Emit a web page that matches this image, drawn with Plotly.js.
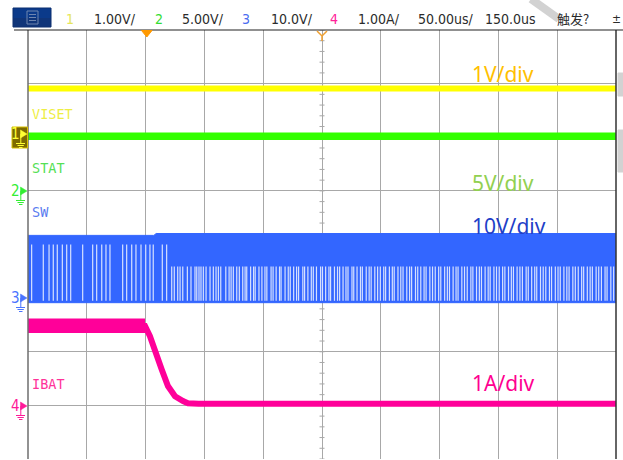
<!DOCTYPE html>
<html>
<head>
<meta charset="utf-8">
<script src="https://cdn.plot.ly/plotly-3.0.1.min.js"></script>
<style>html,body{margin:0;padding:0;background:#fff;}#chart{width:623px;height:460px;}</style>
</head>
<body>
<div id="chart"></div>
<script>
// ---------------- data ----------------
const chNumbers = ['1', '2', '3', '4'];
const chScales = ['1.00V/', '5.00V/', '10.0V/', '1.00A/'];
const timeTexts = ['50.00us/', '150.0us', '触发?'];
const chLabels = ['VISET', 'STAT', 'SW', 'IBAT'];
const divLabels = ['1V/div', '5V/div', '10V/div', '1A/div'];

// time in microseconds (trigger at 0)
const viset_t = [-100, 400];
const viset_v = [0.91, 0.91];            // V
const stat_t = [-100, 400];
const stat_v = [5.1, 5.1];               // V
const sw_t = [-100, 7, 9, 400];
const sw_top = [11.7, 11.7, 12.05, 12.05]; // V (envelope)
const sw_bot = [-0.85, -0.85, -0.85, -0.85];
const sw_gap_sparse = [-96.9, -87.0, -82.1, -78.5, -75.1, -70.8, -67.1, -63.7, -53.5, -45.0, -41.6, -37.3,
  -33.7, -30.3, -19.5, -16.1, -11.8, -8.2, -3.9, 0.1, 3.7, 6.5, 14.2, 17.9];
const sw_gap_sparse_top = 10.0;
const sw_gap_dense = [22.2, 24.4, 27.3, 29.3, 31.6, 35.5, 38.6, 42.0, 43.5, 45.4, 47.1, 49.1, 51.4, 54.8, 57.6,
  59.9, 61.9, 63.9, 68.2, 71.0, 72.7, 74.6, 77.5, 79.7, 82.6, 84.6, 86.0, 89.3, 91.8, 93.2, 96.4, 98.9, 101.5,
  103.1, 106.7, 108.4, 111.0, 113.9, 115.2, 118.6, 121.3, 123.0, 125.9, 128.4, 130.1, 133.7, 135.2, 138.0,
  140.9, 142.6, 145.3, 148.8, 150.4, 153.1, 155.9, 157.3, 160.6, 163.2, 165.0, 167.9, 170.4, 172.1, 175.5,
  177.0, 179.8, 182.7, 184.3, 187.6, 190.1, 191.8, 194.9, 197.3, 199.6, 202.5, 204.1, 207.3, 209.8, 211.4,
  214.6, 217.0, 218.9, 222.1, 224.5, 226.2, 229.5, 231.4, 234.0, 236.8, 238.5, 241.7, 244.0, 246.3, 249.2,
  251.0, 254.3, 256.6, 258.4, 261.5, 264.0, 265.7, 268.9, 271.2, 273.5, 276.6, 278.3, 281.4, 283.8, 285.6,
  288.7, 291.3, 293.0, 296.2, 298.4, 300.7, 303.6, 305.5, 308.6, 311.0, 312.8, 315.9, 318.3, 320.4, 323.6,
  325.4, 328.3, 330.9, 332.6, 335.8, 338.1, 340.3, 343.4, 345.2, 348.4, 350.7, 352.6, 355.7, 358.2, 360.1,
  363.3, 365.4, 367.9, 370.8, 372.5, 375.6, 378.0, 379.9, 383.1, 385.3, 387.6, 390.7, 392.4, 395.6, 398.0];
const sw_gap_dense_top = 5.9;
const sw_gap_bottom = -0.5;
const ibat_t = [-100, -0.5, 3.7, 8.0, 13.7, 19.0, 25.0, 31.8, 36.0, 45, 400];
const ibat_a = [1.49, 1.48, 1.29, 0.99, 0.67, 0.36, 0.17, 0.08, 0.04, 0.03, 0.03]; // A
const ibat_noise_t = [-100, -0.5];
const ibat_noise_hi = [1.62, 1.62];
const ibat_noise_lo = [1.35, 1.35];

// ---------------- helpers (layout) ----------------
const W = 623, H = 460, L = 28, R = 7, T = 30, B = 1;
const PW = W - L - R, PH = H - T - B;
function px(x) { return (x - L) / PW; }
function py(y) { return (H - B - y) / PH; }

const cYellow = '#ffff00', cGreen = '#33ff00', cBlue = '#3366ff', cPink = '#ff0099';

// ---------------- traces ----------------
const traces = [];
traces.push({x: viset_t, y: viset_v, yaxis: 'y2', mode: 'lines', line: {color: cYellow, width: 6}, hoverinfo: 'skip'});
traces.push({x: stat_t, y: stat_v, yaxis: 'y3', mode: 'lines', line: {color: cGreen, width: 7.5}, hoverinfo: 'skip'});
traces.push({
  x: sw_t.concat(sw_t.slice().reverse()),
  y: sw_top.concat(sw_bot.slice().reverse()),
  yaxis: 'y4', mode: 'lines', fill: 'toself', fillcolor: cBlue, line: {color: cBlue, width: 1}, hoverinfo: 'skip'
});
const gx = [], gy = [];
sw_gap_sparse.forEach(t => { gx.push(t, t, null); gy.push(sw_gap_sparse_top, sw_gap_bottom, null); });
sw_gap_dense.forEach(t => { gx.push(t, t, null); gy.push(sw_gap_dense_top, sw_gap_bottom, null); });
traces.push({x: gx, y: gy, yaxis: 'y4', mode: 'lines', line: {color: 'rgba(255,255,255,0.8)', width: 1.2}, hoverinfo: 'skip'});
traces.push({
  x: ibat_noise_t.concat(ibat_noise_t.slice().reverse()),
  y: ibat_noise_hi.concat(ibat_noise_lo.slice().reverse()),
  yaxis: 'y5', mode: 'lines', fill: 'toself', fillcolor: cPink, line: {color: cPink, width: 0}, hoverinfo: 'skip'
});
traces.push({x: ibat_t, y: ibat_a, yaxis: 'y5', mode: 'lines', line: {color: cPink, width: 6}, hoverinfo: 'skip'});

// ---------------- shapes ----------------
const shapes = [];
const gridGray = '#a8a8a8';
// minor ticks on center vertical line
for (let k = -20; k <= 20; k++) {
  shapes.push({type: 'line', xref: 'paper', yref: 'y', x0: px(319.5), x1: px(324.5), y0: k * 0.2, y1: k * 0.2,
    line: {color: gridGray, width: 1}, layer: 'below'});
}
// borders
shapes.push({type: 'line', xref: 'paper', yref: 'paper', x0: px(28), x1: px(28), y0: 0, y1: 1, line: {color: '#6e6e6e', width: 1.5}});
shapes.push({type: 'line', xref: 'paper', yref: 'paper', x0: px(616), x1: px(616), y0: 0, y1: 1, line: {color: '#333333', width: 1.5}});
shapes.push({type: 'line', xref: 'paper', yref: 'paper', x0: px(14), x1: px(623), y0: 1, y1: 1, line: {color: '#222222', width: 1.2}});
// trigger markers
shapes.push({type: 'path', xref: 'paper', yref: 'paper',
  path: `M ${px(141.5)} ${py(30.5)} L ${px(152)} ${py(30.5)} L ${px(146.8)} ${py(37)} Z`,
  fillcolor: '#ff9900', line: {color: '#ff9900', width: 1}});
shapes.push({type: 'path', xref: 'paper', yref: 'paper',
  path: `M ${px(317)} ${py(31)} L ${px(322)} ${py(36)} L ${px(327)} ${py(31)} M ${px(322)} ${py(36)} L ${px(322)} ${py(41)}`,
  line: {color: '#f0a030', width: 1.5}});
// menu button
shapes.push({type: 'rect', xref: 'paper', yref: 'paper', x0: px(13), x1: px(51), y0: py(27), y1: py(8),
  fillcolor: '#0b3a8a', line: {color: '#0a2f70', width: 1}});
shapes.push({type: 'rect', xref: 'paper', yref: 'paper', x0: px(13), x1: px(51), y0: py(27), y1: py(18),
  fillcolor: 'rgba(20,50,110,0.6)', line: {width: 0}});
shapes.push({type: 'rect', xref: 'paper', yref: 'paper', x0: px(27), x1: px(38), y0: py(24), y1: py(11),
  fillcolor: 'rgba(0,0,0,0)', line: {color: '#6f86b0', width: 1}});
[14.5, 17.5, 20.5].forEach(yy => shapes.push({type: 'line', xref: 'paper', yref: 'paper', x0: px(29), x1: px(36),
  y0: py(yy), y1: py(yy), line: {color: '#6f86b0', width: 1}}));
// watermark remnants
const wm = '#d2d2d2';
shapes.push({type: 'line', xref: 'paper', yref: 'paper', x0: px(531), y0: py(-1), x1: px(559), y1: py(19),
  line: {color: wm, width: 8}});
shapes.push({type: 'rect', xref: 'paper', yref: 'paper', x0: px(618), x1: px(623), y0: py(96), y1: py(73),
  fillcolor: wm, line: {color: wm, width: 1}});
shapes.push({type: 'rect', xref: 'paper', yref: 'paper', x0: px(618), x1: px(623), y0: py(172), y1: py(130),
  fillcolor: wm, line: {color: wm, width: 1}});

// channel ground markers (pixel y of ground level for each channel)
const chColors = ['#ffff33', '#33ee33', '#4a74ff', '#ff1a99'];
const groundPx = [134, 191, 298, 406];
shapes.push({type: 'rect', xref: 'paper', yref: 'paper', x0: px(12), x1: px(27.5), y0: py(148), y1: py(127),
  fillcolor: '#7d6b00', line: {color: '#d8c000', width: 1}});
const annotations = [];
groundPx.forEach((g, i) => {
  const c = chColors[i];
  shapes.push({type: 'path', xref: 'paper', yref: 'paper',
    path: `M ${px(20.5)} ${py(g - 4)} L ${px(20.5)} ${py(g + 4)} L ${px(27)} ${py(g)} Z`, fillcolor: c, line: {color: c, width: 0.5}});
  shapes.push({type: 'line', xref: 'paper', yref: 'paper', x0: px(20.8), x1: px(20.8), y0: py(g), y1: py(g + 9.5), line: {color: c, width: 1}});
  [[16, 25, 9.5], [17.5, 23.8, 11.5], [19, 22.5, 13.5]].forEach(s => shapes.push({type: 'line', xref: 'paper', yref: 'paper',
    x0: px(s[0]), x1: px(s[1]), y0: py(g + s[2]), y1: py(g + s[2]), line: {color: c, width: 1}}));
  annotations.push({xref: 'paper', yref: 'paper', x: px(15.8), y: py(g), text: chNumbers[i], showarrow: false,
    xanchor: 'center', yanchor: 'middle', font: {family: 'Liberation Sans Narrow, DejaVu Sans Condensed, sans-serif', size: 15, color: c}});
});

// ---------------- annotations ----------------
const hdrFont = 'Liberation Sans Narrow, DejaVu Sans Condensed, sans-serif';
const hdrNumColors = ['#e6e65a', '#33dd33', '#4a6cf0', '#ff2299'];
const hdrNumX = [64, 153, 240, 328];
const hdrScaleX = [92, 179.5, 269, 356];
chNumbers.forEach((n, i) => {
  annotations.push({xref: 'paper', yref: 'paper', x: px(hdrNumX[i]), y: py(18.5), text: n, showarrow: false,
    xanchor: 'left', yanchor: 'middle', font: {family: hdrFont, size: 14, color: hdrNumColors[i]}});
  annotations.push({xref: 'paper', yref: 'paper', x: px(hdrScaleX[i]), y: py(18.5), text: chScales[i], showarrow: false,
    xanchor: 'left', yanchor: 'middle', font: {family: hdrFont, size: 14, color: '#2b2b2b'}});
});
const timeX = [415.5, 483, 555];
timeTexts.forEach((t, i) => {
  annotations.push({xref: 'paper', yref: 'paper', x: px(timeX[i]), y: py(18.5), text: t, showarrow: false,
    xanchor: 'left', yanchor: 'middle',
    font: {family: i === 2 ? 'Noto Sans CJK SC, sans-serif' : hdrFont, size: i === 2 ? 13 : 14, color: '#2b2b2b'}});
});
annotations.push({xref: 'paper', yref: 'paper', x: px(622.5), y: py(19), text: '±', showarrow: false,
  xanchor: 'right', yanchor: 'middle', font: {family: hdrFont, size: 12, color: '#2b2b2b'}});

const labelColors = ['#eeee44', '#55e055', '#5a7cf0', '#ff3399'];
const labelY = [113.5, 168, 211.5, 383.5];
chLabels.forEach((t, i) => {
  annotations.push({xref: 'paper', yref: 'paper', x: px(29.5), y: py(labelY[i]), text: t, showarrow: false,
    xanchor: 'left', yanchor: 'middle', font: {family: 'DejaVu Sans Mono, monospace', size: 13.5, color: labelColors[i]}});
});

const divColors = ['#ffc000', '#92d050', '#1f3fc8', '#ff0090'];
const divY = [74, 183, 226, 383];
divLabels.forEach((t, i) => {
  annotations.push({xref: 'paper', yref: 'paper', x: px(470), y: py(divY[i]), text: t, showarrow: false,
    xanchor: 'left', yanchor: 'middle', font: {family: 'Noto Sans, sans-serif', size: 21, color: divColors[i]}});
});

// ---------------- layout ----------------
const hiddenAx = {showgrid: false, zeroline: false, showticklabels: false, ticks: '', showline: false, overlaying: 'y', fixedrange: true};
const layout = {
  width: W, height: H,
  margin: {l: L, r: R, t: T, b: B, pad: 0},
  paper_bgcolor: '#ffffff', plot_bgcolor: '#ffffff',
  showlegend: false,
  xaxis: {range: [-100, 400], tick0: 0, dtick: 50, showgrid: true, gridcolor: gridGray, gridwidth: 1,
    zeroline: false, showticklabels: false, ticks: '', showline: false, fixedrange: true},
  yaxis: {range: [-4, 4], tick0: 0, dtick: 1, showgrid: true, gridcolor: gridGray, gridwidth: 1,
    zeroline: false, showticklabels: false, ticks: '', showline: false, fixedrange: true},
  yaxis2: Object.assign({range: [-6, 2]}, hiddenAx),   // ch1 1 V/div
  yaxis3: Object.assign({range: [-25, 15]}, hiddenAx), // ch2 5 V/div
  yaxis4: Object.assign({range: [-30, 50]}, hiddenAx), // ch3 10 V/div
  yaxis5: Object.assign({range: [-1, 7]}, hiddenAx),   // ch4 1 A/div
  shapes: shapes,
  annotations: annotations
};

Plotly.newPlot('chart', traces, layout, {displayModeBar: false, staticPlot: true});
</script>
</body>
</html>
